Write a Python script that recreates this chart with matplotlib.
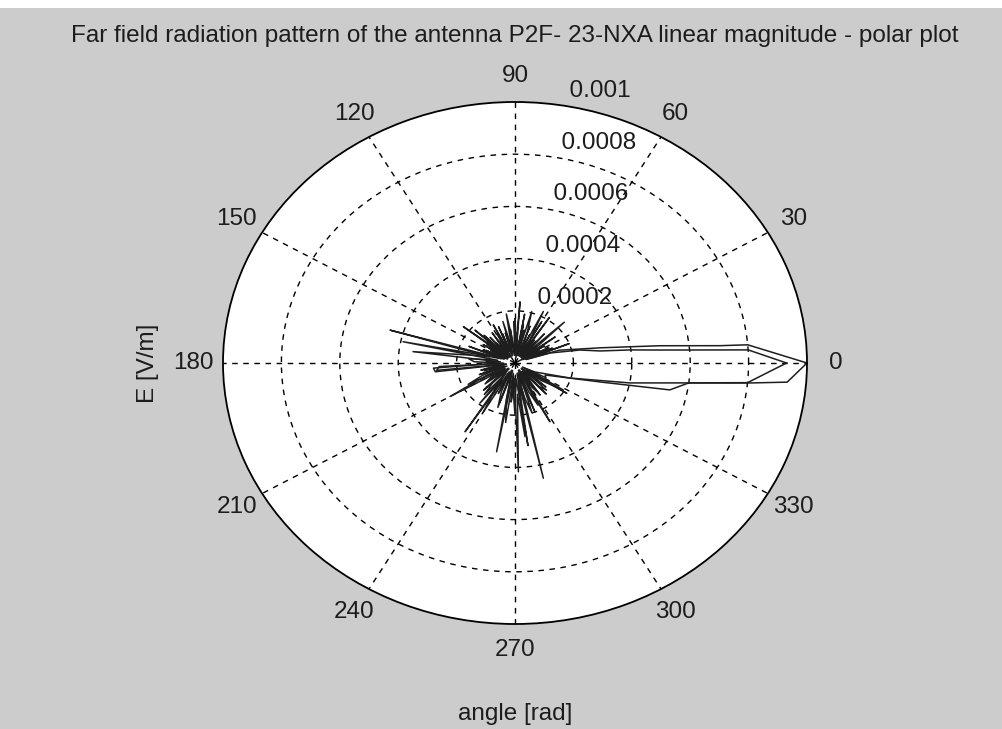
import numpy as np
import matplotlib
matplotlib.use("Agg")
import matplotlib.pyplot as plt

plt.rcParams['font.family'] = ['Liberation Sans', 'DejaVu Sans']

# Far-field magnitude, two measured traces (angle in degrees, |E| in 1e-4 V/m)
theta_a = [0, 5, 5.4, 7.6, 11.2, 17.9, 20, 21.8, 24, 27, 30, 33, 36, 39, 42.8,
           45, 49, 52, 56, 58, 60, 63.8, 66, 70, 73.8, 76, 79, 82, 85.8, 88,
           91, 94, 97, 100, 104.6, 107, 111, 114, 117, 120, 124, 127, 131, 134,
           137.4, 139, 141.8, 144, 148, 151, 155, 158, 163.6, 165, 168, 172.9,
           175, 178, 181, 184, 187, 189, 193, 196, 200, 203, 206, 210, 213,
           217, 220, 224, 227, 232, 235, 237, 240, 244, 247, 251, 254, 259.5,
           262, 265, 268, 271.6, 274, 276.9, 279.5, 282.4, 285, 288, 290, 293,
           296, 298, 301, 305, 308, 312, 315, 319, 322, 326.8, 329, 332,
           336, 346, 349, 352.7, 354.5, 355.5, 360]
mag_a = [10.0, 8.0, 7.05, 5.0, 3.0, 1.6, 0.5, 2.0, 0.4, 1.3, 0.2, 1.2, 0.6, 0.9, 2.3,
         0.3, 1.1, 0.5, 2.1, 0.3, 1.0, 2.2, 0.4, 1.2, 2.05, 0.3, 1.5, 0.2, 2.35, 0.5,
         1.6, 0.3, 1.3, 0.6, 1.64, 0.3, 1.2, 0.5, 1.64, 0.2, 1.1, 0.4, 1.3, 0.3,
         1.86, 0.7, 2.25, 0.3, 1.0, 0.5, 1.2, 0.4, 4.46, 0.9, 1.4, 3.52,
         0.5, 1.0, 0.6, 2.8, 2.75, 0.3, 1.2, 0.4, 1.3, 0.3, 1.1, 2.57, 0.4,
         1.2, 0.5, 1.5, 0.3, 1.95, 0.8, 3.14, 0.4, 1.3, 0.3, 1.6, 0.5, 3.46,
         0.4, 1.5, 0.6, 4.17, 1.2, 2.84, 0.8, 4.52, 0.4, 1.2, 2.0, 0.3,
         1.1, 2.55, 0.4, 1.5, 0.5, 1.6, 0.3, 1.4, 0.5, 2.12, 0.3, 1.2,
         1.13, 3.0, 5.4, 6.0, 8.0, 9.35, 10.0]

theta_b = [0, 3.6, 5.7, 7.2, 9, 12.6, 17.7, 19, 22, 24, 26, 29, 32, 36, 38, 41,
           44, 48, 50, 53, 56, 60, 62, 65, 68, 70, 72, 76, 78, 80, 83, 86, 89,
           90, 93, 96, 99, 102, 106, 109, 112, 115, 119, 122, 124, 127, 130,
           132, 135, 138, 143, 145, 147, 150, 154, 156, 158, 161, 165, 168,
           170, 174, 178, 181, 183, 186, 188, 192, 196, 199, 203, 207, 210,
           214, 218, 221, 225, 229, 232, 236, 240, 243, 247, 251, 254, 258,
           262, 265, 268, 270, 273, 276, 278, 280, 284, 287, 290, 293, 296,
           299, 302, 305, 308, 312, 316, 319, 323, 328, 330.5,
           333.3, 343, 349, 352.7, 354.6, 360]
mag_b = [9.3, 8.0, 5.0, 4.0, 2.95, 2.28, 1.26, 0.4, 1.0, 1.4, 0.3, 0.9, 0.5, 1.7, 0.3, 1.0,
         0.6, 1.5, 0.3, 1.1, 0.4, 1.8, 0.3, 1.2, 0.5, 1.5, 0.3, 1.3, 0.4, 1.9, 0.3, 1.2, 0.5,
         1.7, 0.3, 1.0, 1.9, 0.4, 1.2, 0.3, 1.5, 0.5, 1.3, 0.3, 1.4, 0.6, 1.0,
         0.3, 1.5, 0.4, 1.2, 0.5, 1.3, 0.3, 1.1, 0.4, 1.7, 0.5, 1.2, 3.92,
         0.6, 1.6, 1.4, 0.4, 2.6, 2.7, 0.3, 1.0, 1.1, 0.4, 1.2, 1.8, 0.5,
         1.0, 1.3, 0.3, 1.1, 1.6, 0.5, 1.2, 2.2, 0.4, 1.2, 1.8, 0.3, 1.4,
         2.3, 0.5, 1.3, 2.0, 0.6, 1.1, 3.2, 0.4, 1.4, 2.0, 0.5, 1.2, 1.8,
         0.3, 1.1, 1.4, 0.4, 1.2, 1.5, 0.3, 1.1, 1.95, 0.5,
         0.77, 1.97, 4.0, 6.0, 8.0, 9.3]

r_max = 0.001
r_ticks = [0.0002, 0.0004, 0.0006, 0.0008, 0.001]
r_tick_labels = ['0.0002', '0.0004', '0.0006', '0.0008', '0.001']
angle_ticks = list(range(0, 360, 30))
angle_labels = [str(a) for a in angle_ticks]

W, H = 1002, 729
fig = plt.figure(figsize=(W / 100, H / 100), dpi=100, facecolor='#cccccc')
# thin white strip along the top edge of the window
fig.patches.append(plt.Rectangle((0, 1 - 8 / H), 1, 8 / H, transform=fig.transFigure,
                                 facecolor='white', edgecolor='none', zorder=0))

cx, cy, rx, ry = 515, 363, 292, 261
ax = fig.add_axes([(cx - rx) / W, (H - cy - ry) / H, 2 * rx / W, 2 * ry / H],
                  projection='polar')
ax.set_aspect('auto')
ax.set_facecolor('white')
ax.set_ylim(0, r_max)
ax.set_yticks(r_ticks[:-1])
ax.set_xticks(np.deg2rad(angle_ticks))
ax.set_xticklabels([])
ax.set_yticklabels([])
ax.grid(True, color='black', linestyle=(0, (4, 4)), linewidth=1.0)
ax.spines['polar'].set_color('black')
ax.spines['polar'].set_linewidth(1.3)
ax.tick_params(length=0)

txt = '#1c1c1c'
fs = 17.5

for a, lab in zip(angle_ticks, angle_labels):
    ax.text(np.deg2rad(a), 1.1 * r_max, lab, ha='center', va='center',
            fontsize=fs, color=txt, clip_on=False)

for rv, lab in zip(r_ticks, r_tick_labels):
    ax.text(np.deg2rad(82), rv + 0.00001, '  ' + lab, ha='left', va='bottom',
            fontsize=fs, color=txt, clip_on=False)

for th, mg in ((theta_a, mag_a), (theta_b, mag_b)):
    ax.plot(np.deg2rad(th), np.array(mg) * 1e-4, color='#1e1e1e', linewidth=1.1)

fig.text(cx / W, 1 - 36 / H,
         'Far field radiation pattern of the antenna P2F- 23-NXA linear magnitude - polar plot',
         ha='center', va='center', fontsize=fs, color=txt)
fig.text(cx / W, 1 - 714 / H, 'angle [rad]', ha='center', va='center',
         fontsize=fs, color=txt)
fig.text(148 / W, 1 - cy / H, 'E [V/m]', ha='center', va='center', rotation=90,
         fontsize=fs, color=txt)

fig.savefig('out.png', dpi=100, facecolor=fig.get_facecolor())
